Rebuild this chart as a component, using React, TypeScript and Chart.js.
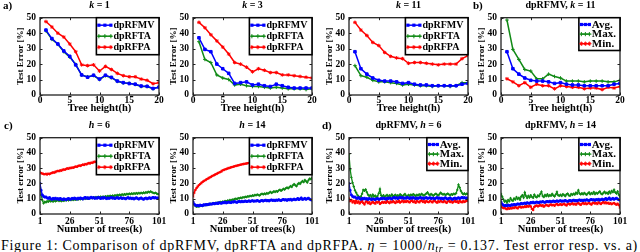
import React, { useEffect, useRef } from "react";
import { Chart, registerables } from "chart.js";

Chart.register(...registerables);

const FONT = '"Liberation Serif", "Times New Roman", serif';
const BLUE = "#0000ff";
const GREEN = "#118a16";
const RED = "#ff0000";

// ---------- categories / ticks ----------
const treeHeights = [1, 2, 3, 4, 5, 6, 7, 8, 9, 10, 11, 12, 13, 14, 15, 16, 17, 18, 19, 20];
const treeCounts = Array.from({ length: 101 }, (_, i) => i + 1);
const heightTicks = [0, 5, 10, 15, 20];
const treeTicks = [1, 26, 51, 76, 101];
const errorTicks = [0, 10, 20, 30, 40, 50];

// ---------- row 1: test error vs tree height ----------
const mvK1 = [42, 36.5, 33, 28.5, 25, 19.5, 13, 11.5, 12.8, 10.3, 12.8, 11.4, 9, 8, 7.4, 7, 5.8, 5.6, 4.2, 5.1];
const taK1 = [41.5, 36, 32.8, 28, 24.5, 19.8, 12.8, 11.8, 12.6, 10, 12.5, 11.2, 8.8, 7.8, 7.6, 6.8, 5.5, 5.5, 4, 5.2];
const paK1 = [47.5, 44, 40, 37.5, 33, 28, 19.5, 19, 19.5, 15.5, 18.5, 16.5, 14, 12.5, 11.8, 11.8, 10.3, 9.5, 7.3, 8];

const mvK3 = [37, 29.5, 28, 20, 17, 14, 7.5, 8, 8.5, 6.5, 7, 6, 5.5, 7, 6, 5, 4.5, 4.5, 4.5, 4.5];
const taK3 = [34.5, 23, 21, 13, 11, 10, 6.5, 7, 6, 5.5, 5.5, 5, 4.5, 5, 4.5, 4, 4, 4, 3.5, 4];
const paK3 = [47, 43.5, 39, 35, 31, 26.5, 21, 20, 18, 15, 17, 16, 14.5, 14.5, 13, 13, 12.5, 12, 11.5, 11];

const mvK11 = [28, 17, 13.5, 11, 9.5, 9, 9, 8.5, 7.5, 8, 7, 6.5, 6.5, 6, 6, 6, 6, 6, 7, 7.5];
const taK11 = [19, 12.5, 11.5, 9.5, 8.5, 8.5, 8, 7.5, 6.5, 7, 6.5, 6, 6, 5.5, 6, 6, 5.5, 6, 8, 8];
const paK11 = [47, 42, 38.5, 34, 32, 27.5, 25, 24, 23.5, 20.5, 21, 21, 20.5, 20, 19.5, 20, 20, 20, 23.5, 25.5];

const maxK11 = [48.5, 29.5, 23, 16.5, 15.5, 10.5, 10.5, 13.5, 12, 11, 9, 9, 9, 8.5, 9, 9, 9, 8.5, 8.5, 9.5];
const minK11 = [10.5, 8.5, 6, 8, 5, 7, 6, 6, 4, 6, 5.5, 5, 5, 4, 4.5, 4.5, 3.5, 5, 4.5, 5.5];

// ---------- row 2: test error vs number of trees ----------
const mvH6 = [
  20, 15.5, 12.5, 11.5, 11, 11.2, 10.5, 10.2, 10.8, 10,
  9.6, 10.3, 9.8, 10.4, 9.7, 10.1, 9.5, 10.2, 9.8, 9.4,
  10, 9.7, 9.3, 9.9, 10.2, 9.6, 9.8, 10.3, 9.9, 10.5,
  10.1, 9.7, 10.4, 10, 10.6, 10.2, 9.8, 10.5, 10.9, 10.3,
  10.7, 10.1, 10.6, 11, 10.4, 10.8, 10.2, 10.6, 10.3, 10.9,
  10.5, 10.1, 10.7, 10.3, 10.8, 10.4, 10, 10.6, 10.2, 10.5,
  10.9, 10.3, 10.6, 10.1, 10.5, 10.8, 10.2, 10.4, 10.7, 10.1,
  10.5, 10.3, 9.9, 10.4, 10.8, 10.2, 10.6, 10, 10.4, 9.8,
  10.3, 10.7, 10.1, 9.7, 10.2, 10.6, 10, 9.6, 10.2, 10.5,
  9.9, 10.3, 10.7, 10.1, 10.5, 10.9, 10.4, 10.8, 10.3, 10.6, 10.4,
];
const taH6 = [
  20, 12.5, 9, 7, 8, 7.6, 8.4, 8, 8.8, 8.2,
  8.6, 8.1, 8.9, 8.3, 8.7, 9.1, 8.5, 8.9, 8.4, 9,
  8.6, 9.2, 8.8, 9.3, 8.9, 9.5, 9.1, 9.6, 9.2, 9.7,
  9.3, 9.8, 9.4, 10, 9.6, 10.1, 9.7, 10.3, 9.9, 10.5,
  10, 10.6, 10.2, 10.8, 10.4, 11, 10.6, 11.1, 10.7, 11.3,
  10.9, 11.4, 11, 11.5, 11.1, 11.6, 11.2, 11.8, 11.4, 12,
  11.6, 12.1, 11.7, 12.3, 11.9, 12.5, 12.1, 12.7, 12.3, 12.9,
  12.5, 13, 12.6, 13.2, 12.8, 13.4, 13, 13.5, 13.1, 13.6,
  13.2, 13.7, 13.3, 13.8, 13.4, 13.9, 13.5, 14.1, 13.7, 14.3,
  13.9, 14.6, 14.2, 14.8, 14.3, 13.9, 13.6, 13.9, 13.4, 13.1, 12.9,
];
const paH6 = [
  27.2, 26.8, 26.5, 26.2, 26, 26.3, 25.9, 26.4, 26.1, 26.6,
  26.9, 27.3, 27.1, 27.6, 27.9, 28.3, 28, 28.6, 28.4, 28.9,
  29.2, 29, 29.6, 29.9, 29.7, 30.2, 30, 30.5, 30.3, 30.8,
  31.1, 30.9, 31.4, 31.8, 31.5, 32, 32.4, 32.1, 32.7, 32.5,
  33, 33.4, 33.1, 33.7, 33.5, 34, 34.3, 34.1, 34.6, 34.9,
  35.2, 35, 35.5, 35.8, 35.6, 36, 36.3, 36.1, 36.5, 36.8,
  36.6, 37, 37.2, 37.4, 37.3, 37.6, 37.8, 37.7, 38, 38.2,
  38.1, 38.3, 38.5, 38.4, 38.6, 38.8, 38.7, 38.9, 39.1, 39,
  39.2, 39.4, 39.3, 39.5, 39.6, 39.4, 39.7, 39.8, 39.6, 39.9,
  40, 39.8, 40.1, 40.2, 40, 39.8, 39.6, 39.7, 39.4, 39.2, 39,
];

const mvH14 = [
  8, 6.6, 5.8, 5.4, 5.7, 5.3, 5.9, 5.6, 5.5, 6.1,
  5.8, 6.3, 6.0, 6.2, 6.7, 6.4, 6.5, 7.0, 6.6, 6.9,
  7.2, 6.8, 7.4, 7.1, 7.0, 7.6, 7.3, 7.8, 7.2, 7.5,
  7.9, 7.6, 7.4, 8.0, 7.7, 8.2, 7.8, 7.6, 8.1, 8.3,
  7.9, 8.4, 8.0, 8.2, 8.6, 8.1, 8.3, 8.7, 8.2, 8.5,
  8.8, 8.3, 8.6, 8.4, 8.9, 8.5, 8.2, 8.7, 8.9, 8.4,
  8.8, 9.1, 8.6, 8.9, 8.5, 9.0, 9.3, 8.8, 9.1, 8.7,
  9.2, 8.9, 9.4, 9.0, 8.8, 9.3, 9.6, 9.1, 9.4, 8.9,
  9.5, 9.2, 9.7, 9.0, 9.4, 9.8, 9.3, 9.6, 10.2, 9.4,
  9.9, 10.6, 9.5, 9.8, 10.3, 9.6, 10.0, 10.4, 9.7, 9.3, 9.1,
];
const taH14 = [
  8, 6.1, 5.2, 4.8, 5.0, 4.9, 5.3, 5.6, 5.2, 5.8,
  6.0, 5.7, 6.3, 6.5, 6.2, 6.8, 6.6, 7.1, 6.9, 7.3,
  7.0, 7.6, 7.4, 7.9, 7.7, 8.2, 8.0, 8.5, 8.3, 8.8,
  8.6, 9.2, 8.9, 9.5, 9.3, 9.8, 10.1, 9.7, 10.4, 10.2,
  10.7, 10.5, 11.0, 10.8, 11.3, 11.1, 11.6, 11.4, 11.9, 11.7,
  12.2, 11.9, 12.5, 12.2, 12.8, 12.4, 12.1, 12.9, 13.3, 12.8,
  13.4, 13.0, 13.7, 13.3, 13.9, 14.5, 13.8, 14.2, 14.9, 14.4,
  15.0, 14.6, 15.4, 15.9, 15.2, 15.8, 16.5, 16.0, 16.9, 17.4,
  16.8, 17.6, 18.3, 17.7, 18.9, 19.6, 18.8, 18.2, 19.5, 20.3,
  19.7, 20.8, 21.6, 20.9, 22.3, 21.5, 20.6, 22.1, 23.2, 22.8, 23.8,
];
const paH14 = [
  11.5, 14, 15.8, 17, 18, 18.9, 19.6, 20.3, 21, 21.5,
  22, 22.5, 23, 23.4, 23.9, 24.3, 24.8, 25.2, 25.6, 26,
  26.4, 26.8, 27.2, 27.6, 28, 28.6, 28.9, 29.2, 29.5, 29.8,
  30.1, 30.3, 30.6, 30.8, 31, 31.3, 31.5, 31.7, 31.9, 32.1,
  32.3, 32.5, 32.7, 32.8, 33, 33.1, 33.3, 33.4, 33.5, 33.7,
  33.8, 34, 34.1, 34.3, 34.4, 34.6, 34.7, 34.8, 35, 35.1,
  35.2, 35.4, 35.5, 35.6, 35.8, 35.9, 36, 36.2, 36.3, 36.4,
  36.5, 36.7, 36.8, 36.9, 37, 37.1, 37.2, 37.3, 37.4, 37.5,
  37.6, 37.7, 37.8, 37.9, 38, 38.1, 38.2, 38.3, 38.4, 38.5,
  38.6, 38.6, 38.7, 38.8, 38.9, 38.9, 39, 39.1, 39.1, 39.2, 39.3,
];

const maxH6 = [
  39, 29, 24, 20.5, 18, 15.5, 14, 12.5, 11.6, 10.8,
  11.5, 13.2, 15.8, 15.2, 16.1, 14.3, 12.6, 11.8, 12.4, 11.2,
  12.7, 11.4, 12.1, 10.9, 11.8, 13.5, 16.3, 12.2, 11.5, 12.3,
  11.1, 11.9, 12.5, 11.3, 12.2, 11.7, 12.8, 11.4, 12.1, 12.6,
  11.5, 12.3, 11.8, 12.9, 12.2, 11.6, 12.4, 13.1, 12.0, 11.7,
  12.5, 11.9, 12.7, 12.2, 13.0, 12.4, 11.8, 12.6, 12.1, 12.9,
  12.3, 13.2, 12.6, 12.0, 12.8, 13.5, 14.2, 12.9, 12.4, 13.1,
  12.5, 12.0, 12.8, 13.3, 12.6, 12.2, 13.0, 14.0, 13.2, 12.7,
  13.1, 12.5, 12.9, 13.4, 12.8, 12.3, 13.0, 12.6, 13.3, 12.9,
  13.6, 15.8, 19.2, 17.4, 15.1, 13.8, 12.9, 13.5, 12.8, 13.4, 13.0,
];
const minH6 = [
  10.1, 8.4, 9.2, 7.6, 8.5, 7.1, 8.8, 7.4, 8.2, 6.9,
  7.8, 8.6, 7.2, 6.3, 7.9, 8.4, 7.0, 7.7, 6.5, 7.4,
  8.1, 7.3, 6.8, 7.9, 7.5, 8.3, 6.6, 7.2, 7.9, 7.4,
  8.0, 7.3, 8.6, 7.7, 7.1, 8.2, 7.6, 8.4, 7.9, 7.2,
  8.3, 7.8, 8.7, 7.5, 8.1, 8.8, 7.7, 8.4, 7.9, 8.6,
  8.0, 7.6, 8.5, 8.9, 7.8, 8.3, 7.4, 8.7, 8.1, 7.6,
  8.4, 8.9, 7.9, 8.3, 7.5, 8.6, 8.0, 7.7, 8.5, 8.2,
  7.6, 8.4, 8.8, 8.0, 7.4, 8.3, 7.9, 8.6, 8.1, 7.7,
  8.5, 8.0, 7.3, 8.2, 8.7, 7.8, 8.4, 7.5, 8.1, 8.8,
  7.9, 8.3, 7.4, 8.6, 8.0, 7.6, 8.4, 7.9, 8.3, 8.7, 8.5,
];

const maxH14 = [
  13.2, 11.4, 9.6, 8.1, 8.7, 7.4, 9.2, 8.3, 10.4, 9.1,
  8.6, 10.2, 9.4, 11.1, 9.8, 10.6, 9.3, 11.5, 12.4, 10.7,
  14.1, 11.8, 10.5, 11.9, 10.8, 12.3, 11.2, 10.6, 12.7, 11.4,
  10.9, 12.2, 11.6, 13.1, 14.6, 11.8, 11.1, 12.5, 11.7, 12.9,
  11.6, 12.4, 11.9, 13.2, 12.1, 11.5, 12.8, 14.5, 12.3, 11.9,
  12.6, 11.8, 13.0, 12.4, 11.7, 12.9, 13.4, 12.2, 11.9, 13.1,
  12.5, 13.3, 12.7, 14.0, 13.2, 15.6, 13.5, 12.8, 13.6, 12.9,
  13.8, 13.1, 12.6, 13.5, 14.2, 12.9, 13.7, 13.2, 14.4, 13.0,
  13.9, 13.3, 14.1, 14.8, 13.4, 12.9, 13.8, 14.6, 13.5, 14.0,
  13.2, 14.7, 13.6, 15.1, 14.3, 15.9, 14.2, 13.4, 14.8, 12.6, 11.2,
];
const minH14 = [
  5.1, 4.4, 3.8, 4.2, 3.5, 3.1, 3.9, 3.4, 4.0, 3.6,
  4.3, 3.8, 4.6, 4.1, 3.7, 4.5, 4.9, 4.2, 4.7, 4.4,
  5.0, 4.6, 5.3, 4.8, 5.5, 4.9, 3.4, 2.6, 4.7, 5.2,
  5.6, 5.0, 5.4, 6.0, 5.3, 5.7, 4.8, 5.5, 6.1, 5.6,
  5.2, 5.9, 6.3, 5.7, 6.0, 5.4, 6.2, 6.6, 5.8, 6.1,
  6.5, 5.9, 6.3, 6.8, 6.1, 5.6, 6.4, 6.9, 6.2, 6.6,
  7.0, 6.3, 6.7, 6.1, 6.9, 7.2, 6.5, 6.0, 6.8, 7.3,
  6.6, 7.0, 6.4, 6.9, 7.4, 6.7, 6.2, 7.1, 7.5, 6.8,
  7.2, 6.6, 7.6, 7.0, 6.5, 7.3, 7.8, 7.1, 7.6, 6.9,
  7.4, 6.7, 7.1, 6.4, 6.9, 7.2, 6.6, 6.1, 6.8, 5.9, 4.2,
];

// ---------- layout ----------
const COL_LEFT = [40, 193, 349, 501];
const PLOT_W = 119;
const ROW_TOP = [14, 134];
const PLOT_H = [81, 80];
const X_AXIS_H = [20, 22];
const X_TICK_PAD = [0, 1.5];
const Y_AXIS_W = 25;
const PAD_L = 2;
const PAD_T = 6;
const PAD_R = 10;

type SeriesDef = { label: string; values: number[]; color: string; marker: string };
type PanelDef = {
  row: number;
  col: number;
  title: React.ReactNode;
  series: SeriesDef[];
  legendStyle: "method" | "stat";
};

const methodSeries = (mv: number[], ta: number[], pa: number[]): SeriesDef[] => [
  { label: "dpRFMV", values: mv, color: BLUE, marker: "rect" },
  { label: "dpRFTA", values: ta, color: GREEN, marker: "cross" },
  { label: "dpRFPA", values: pa, color: RED, marker: "star" },
];
const statSeries = (avg: number[], mx: number[], mn: number[]): SeriesDef[] => [
  { label: "Avg.", values: avg, color: BLUE, marker: "rect" },
  { label: "Max.", values: mx, color: GREEN, marker: "cross" },
  { label: "Min.", values: mn, color: RED, marker: "star" },
];

const PANELS: PanelDef[] = [
  { row: 0, col: 0, title: <><i>k</i> = 1</>, series: methodSeries(mvK1, taK1, paK1), legendStyle: "method" },
  { row: 0, col: 1, title: <><i>k</i> = 3</>, series: methodSeries(mvK3, taK3, paK3), legendStyle: "method" },
  { row: 0, col: 2, title: <><i>k</i> = 11</>, series: methodSeries(mvK11, taK11, paK11), legendStyle: "method" },
  { row: 0, col: 3, title: <>dpRFMV, <i>k</i> = 11</>, series: statSeries(mvK11, maxK11, minK11), legendStyle: "stat" },
  { row: 1, col: 0, title: <><i>h</i> = 6</>, series: methodSeries(mvH6, taH6, paH6), legendStyle: "method" },
  { row: 1, col: 1, title: <><i>h</i> = 14</>, series: methodSeries(mvH14, taH14, paH14), legendStyle: "method" },
  { row: 1, col: 2, title: <>dpRFMV, <i>h</i> = 6</>, series: statSeries(mvH6, maxH6, minH6), legendStyle: "stat" },
  { row: 1, col: 3, title: <>dpRFMV, <i>h</i> = 14</>, series: statSeries(mvH14, maxH14, minH14), legendStyle: "stat" },
];

function drawMarker(ctx: CanvasRenderingContext2D, style: string, x: number, y: number, r: number, color: string) {
  ctx.save();
  ctx.fillStyle = color;
  ctx.strokeStyle = color;
  ctx.lineWidth = 1;
  if (style === "rect") {
    ctx.fillRect(x - r, y - r, 2 * r, 2 * r);
  } else {
    ctx.beginPath();
    ctx.moveTo(x - r - 0.5, y);
    ctx.lineTo(x + r + 0.5, y);
    ctx.moveTo(x, y - r - 0.5);
    ctx.lineTo(x, y + r + 0.5);
    if (style === "star") {
      const d = r * 0.75;
      ctx.moveTo(x - d, y - d);
      ctx.lineTo(x + d, y + d);
      ctx.moveTo(x - d, y + d);
      ctx.lineTo(x + d, y - d);
    }
    ctx.stroke();
  }
  ctx.restore();
}

const frameLegendPlugin = {
  id: "frameLegend",
  afterDatasetsDraw(chart: any, _args: any, opts: any) {
    const { ctx, chartArea: a } = chart;
    const xs = chart.scales.x;
    const ys = chart.scales.y;
    ctx.save();
    ctx.strokeStyle = "#222";
    ctx.lineWidth = 1;
    ctx.beginPath();
    xs.ticks.forEach((t: any) => {
      const px = Math.round(xs.getPixelForValue(t.value)) + 0.5;
      ctx.moveTo(px, a.bottom);
      ctx.lineTo(px, a.bottom - 2.5);
      ctx.moveTo(px, a.top);
      ctx.lineTo(px, a.top + 2.5);
    });
    ys.ticks.forEach((t: any) => {
      const py = Math.round(ys.getPixelForValue(t.value)) + 0.5;
      ctx.moveTo(a.left, py);
      ctx.lineTo(a.left + 2.5, py);
      ctx.moveTo(a.right, py);
      ctx.lineTo(a.right - 2.5, py);
    });
    ctx.stroke();
    ctx.lineWidth = 1.3;
    ctx.strokeRect(a.left, a.top, a.right - a.left, a.bottom - a.top);

    // legend box in the top-right corner of the plot area
    const ds = chart.data.datasets;
    const fs = opts.fontSize;
    ctx.font = `bold ${fs}px ${FONT}`;
    const tw = Math.max(...ds.map((d: any) => ctx.measureText(d.label).width));
    const w = opts.lead + opts.lineLen + opts.gap + tw + opts.tail;
    const h = ds.length * opts.rowH + opts.vpad * 2;
    const x0 = a.right - w;
    const y0 = a.top;
    ctx.fillStyle = "#fff";
    ctx.fillRect(x0, y0, w, h);
    ctx.lineWidth = 1.6;
    ctx.strokeStyle = "#000";
    ctx.strokeRect(x0, y0, w, h);
    ds.forEach((d: any, i: number) => {
      const cy = y0 + opts.vpad + opts.rowH * (i + 0.5);
      const lx0 = x0 + opts.lead;
      const lx1 = lx0 + opts.lineLen;
      ctx.strokeStyle = d.borderColor;
      ctx.lineWidth = 1.5;
      ctx.beginPath();
      ctx.moveTo(lx0, cy);
      ctx.lineTo(lx1, cy);
      ctx.stroke();
      [lx0 + 1, (lx0 + lx1) / 2, lx1 - 1].forEach((mx) => drawMarker(ctx, d.pointStyle, mx, cy, 1.6, d.borderColor));
      ctx.fillStyle = "#000";
      ctx.textBaseline = "middle";
      ctx.textAlign = "left";
      ctx.fillText(d.label, lx1 + opts.gap, cy + 0.5);
    });
    ctx.restore();
  },
};

function makeConfig(p: PanelDef): any {
  const isTrees = p.row === 1;
  const xs = isTrees ? treeCounts : treeHeights;
  const xTicks = isTrees ? treeTicks : heightTicks;
  const tickFont = { family: FONT, size: 9.5, weight: "bold" as const };
  const stat = p.legendStyle === "stat";
  return {
    type: "line",
    data: {
      datasets: p.series.map((s) => ({
        label: s.label,
        data: s.values.map((v, i) => ({ x: xs[i], y: v })),
        borderColor: s.color,
        backgroundColor: s.color,
        borderWidth: isTrees ? 1.3 : 1.5,
        pointStyle: s.marker,
        pointRadius: isTrees ? 1.2 : 1.8,
        pointBorderWidth: 1,
        pointBorderColor: s.color,
        pointBackgroundColor: s.color,
        tension: 0,
        fill: false,
      })),
    },
    options: {
      responsive: false,
      animation: false,
      devicePixelRatio: 1,
      events: [],
      layout: { padding: { left: PAD_L, top: PAD_T, right: PAD_R, bottom: 0 } },
      plugins: {
        legend: { display: false },
        tooltip: { enabled: false },
        title: { display: false },
        frameLegend: stat
          ? { fontSize: 11, lineLen: 10, lead: 1.5, gap: 1.5, tail: 4, rowH: 9.6, vpad: 2 }
          : { fontSize: 10, lineLen: 14, lead: 1.5, gap: 1.5, tail: 4.5, rowH: 11, vpad: 2 },
      },
      scales: {
        x: {
          type: "linear",
          min: isTrees ? 1 : 0,
          max: isTrees ? 101 : 20,
          afterBuildTicks: (s: any) => {
            s.ticks = xTicks.map((v) => ({ value: v }));
          },
          afterFit: (s: any) => {
            s.height = X_AXIS_H[p.row];
          },
          grid: { display: false, drawTicks: false },
          border: { display: false },
          ticks: { font: tickFont, color: "#000", padding: X_TICK_PAD[p.row], autoSkip: false, maxRotation: 0, callback: (v: any) => String(v) },
          title: {
            display: true,
            text: isTrees ? "Number of trees(k)" : "Tree height(h)",
            font: { family: FONT, size: 10.5, weight: "bold" },
            color: "#000",
            padding: 0,
          },
        },
        y: {
          type: "linear",
          min: 0,
          max: 50,
          afterBuildTicks: (s: any) => {
            s.ticks = errorTicks.map((v) => ({ value: v }));
          },
          afterFit: (s: any) => {
            s.width = Y_AXIS_W;
          },
          grid: { display: false, drawTicks: false },
          border: { display: false },
          ticks: { font: tickFont, color: "#000", padding: 4, callback: (v: any) => String(v) },
          title: {
            display: true,
            text: isTrees ? "Test error [%]" : "Test Error [%]",
            font: { family: FONT, size: 9, weight: "bold" },
            color: "#000",
            padding: 0,
          },
        },
      },
    },
    plugins: [frameLegendPlugin],
  };
}

function Panel({ p }: { p: PanelDef }) {
  const ref = useRef<HTMLCanvasElement>(null);
  const left = COL_LEFT[p.col] - Y_AXIS_W - PAD_L;
  const top = ROW_TOP[p.row] - PAD_T;
  const w = PAD_L + Y_AXIS_W + PLOT_W + PAD_R;
  const h = PAD_T + PLOT_H[p.row] + X_AXIS_H[p.row];
  useEffect(() => {
    const chart = new Chart(ref.current as HTMLCanvasElement, makeConfig(p));
    return () => chart.destroy();
  }, [p]);
  const cx = COL_LEFT[p.col] + PLOT_W / 2;
  const ty = ROW_TOP[p.row] - 9.5;
  return (
    <>
      <canvas ref={ref} width={w} height={h} style={{ position: "absolute", left, top, width: w, height: h }} />
      <div
        style={{
          position: "absolute",
          left: cx - 80,
          width: 160,
          top: ty - 6,
          height: 12,
          lineHeight: "12px",
          textAlign: "center",
          fontFamily: FONT,
          fontWeight: "bold",
          fontSize: 10,
          whiteSpace: "nowrap",
        }}
      >
        {p.title}
      </div>
    </>
  );
}

const PANEL_LABELS = [
  { text: "a)", x: 3, y: 4.5 },
  { text: "b)", x: 473, y: 4.5 },
  { text: "c)", x: 4, y: 124.5 },
  { text: "d)", x: 322, y: 124.5 },
];

export default function App() {
  const capRef = useRef<HTMLDivElement>(null);
  useEffect(() => {
    const el = capRef.current;
    if (!el) return;
    el.style.letterSpacing = "0px";
    const wNow = el.getBoundingClientRect().width;
    const n = (el.textContent || "").length;
    const target = 637;
    if (n > 1) el.style.letterSpacing = `${(target - wNow) / n}px`;
  }, []);
  return (
    <div
      style={{
        position: "fixed",
        left: 0,
        top: 0,
        width: 640,
        height: 252,
        overflow: "hidden",
        background: "#fff",
        color: "#000",
      }}
    >
      {PANELS.map((p, i) => (
        <Panel key={i} p={p} />
      ))}
      {PANEL_LABELS.map((l) => (
        <div
          key={l.text}
          style={{
            position: "absolute",
            left: l.x,
            top: l.y - 7,
            height: 14,
            lineHeight: "14px",
            fontFamily: FONT,
            fontWeight: "bold",
            fontSize: 11,
          }}
        >
          {l.text}
        </div>
      ))}
      <div
        ref={capRef}
        style={{
          position: "absolute",
          left: 1,
          top: 239,
          lineHeight: "14px",
          height: 14,
          fontFamily: FONT,
          fontSize: 14,
          whiteSpace: "nowrap",
          display: "inline-block",
        }}
      >
        Figure 1: Comparison of dpRFMV, dpRFTA and dpRFPA. <i>η</i> = 1000/<i>n</i>
        <span style={{ fontSize: 10, position: "relative", top: 2, fontStyle: "italic" }}>tr</span> = 0.137. Test error
        resp. vs. a)
      </div>
    </div>
  );
}
